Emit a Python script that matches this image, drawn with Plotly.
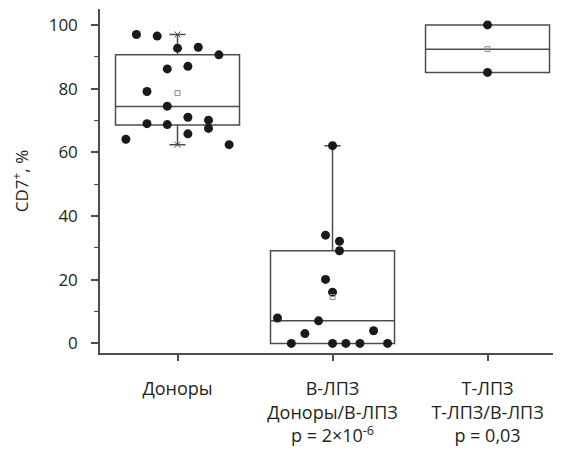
import plotly.graph_objects as go

categories = ["Доноры", "В-ЛПЗ<br>Доноры/В-ЛПЗ<br>p = 2×10<sup>-6</sup>", "Т-ЛПЗ<br>Т-ЛПЗ/В-ЛПЗ<br>p = 0,03"]
positions = [0, 1, 2]

# box statistics
q1 = [68.6, 0.0, 85.1]
median = [74.4, 7.1, 92.4]
q3 = [90.6, 29.1, 100.0]
lower = [62.4, 0.0, 85.1]
upper = [97.0, 62.1, 100.0]
means = [78.6, 14.6, 92.4]

# individual values
donors = [97.0, 96.5, 92.7, 93.0, 90.6, 86.2, 87.0, 79.1, 74.5, 69.0, 68.7, 71.0, 70.1, 67.5, 65.8, 64.1, 62.4]
donors_jit = [-0.265, -0.131, 0.0, 0.134, 0.267, -0.066, 0.067, -0.197, -0.066, -0.197, -0.066, 0.067, 0.2, 0.2, 0.067, -0.333, 0.333]
bl = [62.1, 34.0, 32.1, 29.1, 20.1, 16.1, 8.0, 7.1, 3.1, 4.0, 0.0, 0.0, 0.0, 0.0, 0.0]
bl_jit = [0.0, -0.045, 0.045, 0.045, -0.045, 0.0, -0.355, -0.09, -0.178, 0.265, -0.266, 0.0, 0.086, 0.177, 0.355]
tl = [100.0, 85.1]
tl_jit = [0.0, 0.0]

line_col = "#4d4d4d"
txt_col = "#231f20"

fig = go.Figure()
fig.add_trace(go.Box(
    x=positions, q1=q1, median=median, q3=q3,
    lowerfence=lower, upperfence=upper,
    width=0.8, whiskerwidth=0.13,
    line=dict(color=line_col, width=1.5),
    fillcolor="rgba(0,0,0,0)", boxpoints=False, showlegend=False,
    hoverinfo="skip"))

# min/max markers on the donors whiskers
fig.add_trace(go.Scatter(
    x=[positions[0], positions[0]], y=[lower[0], upper[0]], mode="markers",
    marker=dict(symbol="x-thin", size=6, line=dict(color=line_col, width=1)),
    showlegend=False))

groups = [(0, donors, donors_jit), (1, bl, bl_jit), (2, tl, tl_jit)]
for pos, vals, jit in groups:
    fig.add_trace(go.Scatter(
        x=[pos + j for j in jit], y=vals, mode="markers",
        marker=dict(color="#1a1a1a", size=9, line=dict(width=0)),
        showlegend=False))

fig.add_trace(go.Scatter(
    x=positions, y=means, mode="markers",
    marker=dict(symbol="square-open", size=5, color="#888888", line=dict(width=1)),
    showlegend=False))

font_family = "Open Sans, Noto Sans, sans-serif"
fig.update_layout(
    width=553, height=444,
    margin=dict(l=92, r=0, t=1, b=99),
    plot_bgcolor="white", paper_bgcolor="white",
    font=dict(family=font_family, size=17, color=txt_col),
    xaxis=dict(
        range=[-0.5, 2.474], tickvals=positions, ticktext=categories,
        showline=True, linecolor=line_col, linewidth=1.5,
        ticks="outside", ticklen=6, tickwidth=1.5, tickcolor=line_col,
        showgrid=False, zeroline=False, ticklabelstandoff=13,
        tickfont=dict(size=18)),
    yaxis=dict(
        range=[-3, 105], tickvals=[0, 20, 40, 60, 80, 100],
        showline=True, linecolor=line_col, linewidth=1.5,
        ticks="outside", ticklen=7, tickwidth=1.5, tickcolor=line_col,
        minor=dict(tickvals=[10, 30, 50, 70, 90], ticks="outside", ticklen=4, tickwidth=1, tickcolor=line_col),
        showgrid=False, zeroline=False, ticklabelstandoff=10,
        title=dict(text="CD7<sup>+</sup>, %", standoff=16, font=dict(size=17)),
        tickfont=dict(size=17)),
)

fig.write_html("out.html")
